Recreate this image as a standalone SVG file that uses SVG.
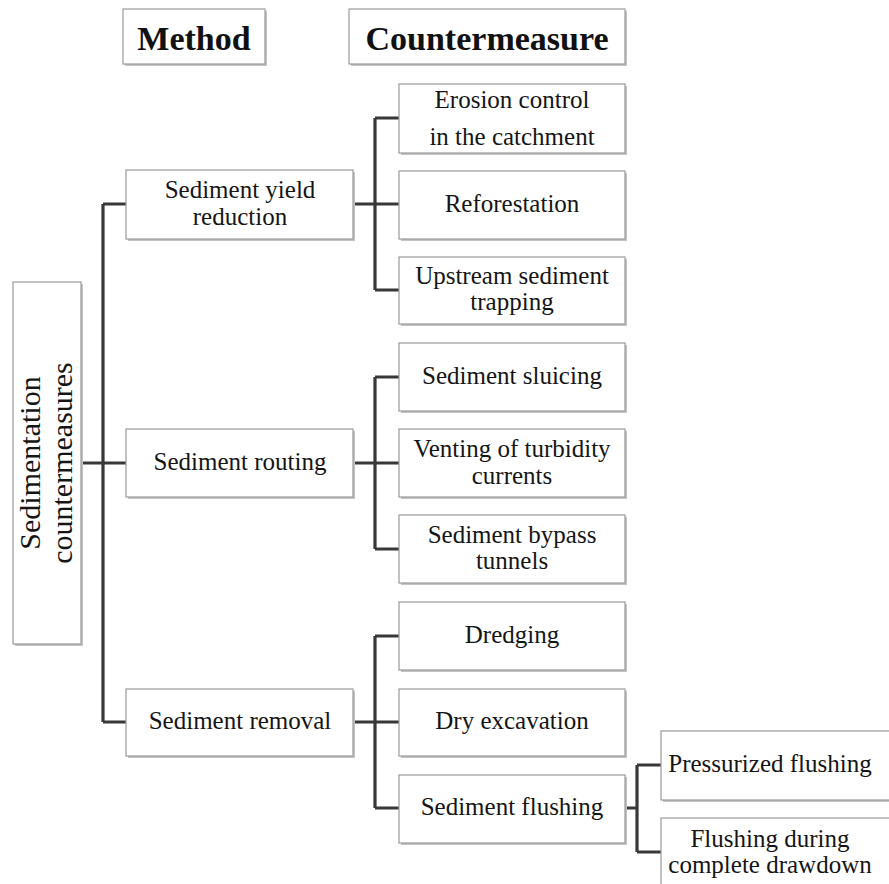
<svg xmlns="http://www.w3.org/2000/svg" width="889" height="884" viewBox="0 0 889 884">
<defs>
<style>
.bx{fill:#fff;stroke:#9a9a9a;stroke-width:1.2}
.sh{fill:#c4c4c4}
.t{font-family:"Liberation Serif","Times New Roman",serif;font-size:25px;fill:#151515;text-anchor:middle}
.h{font-family:"Liberation Serif","Times New Roman",serif;font-size:34px;font-weight:bold;fill:#111;text-anchor:middle}
.r{font-family:"Liberation Serif","Times New Roman",serif;font-size:30px;fill:#151515;text-anchor:middle}
.c{fill:none;stroke:#383838;stroke-width:3.2}
</style>
</defs>
<rect width="889" height="884" fill="#fff"/>
<g id="connectors">
<path class="c" d="M81 463H103M103 204V722M103 204H126M103 463H126M103 722H126"/>
<path class="c" d="M353 204H375M375 118V290M375 118H399M375 204H399M375 290H399"/>
<path class="c" d="M353 463H375M375 377V549M375 377H399M375 463H399M375 549H399"/>
<path class="c" d="M353 722H375M375 636V808M375 636H399M375 722H399M375 808H399"/>
<path class="c" d="M617 808H637M637 765V852M637 765H661M637 852H661"/>
</g>
<g id="hdr-method"><rect class="sh" x="125" y="11" width="142" height="55"/><rect class="bx" x="123" y="9" width="142" height="55"/><text class="h" x="194" y="50">Method</text></g>
<g id="hdr-counter"><rect class="sh" x="351" y="11" width="276" height="55"/><rect class="bx" x="349" y="9" width="276" height="55"/><text class="h" x="487" y="50">Countermeasure</text></g>
<g id="root"><rect class="sh" x="15" y="284" width="68" height="362"/><rect class="bx" x="13" y="282" width="68" height="362"/>
<text class="r" transform="translate(40,463) rotate(-90)">Sedimentation</text>
<text class="r" transform="translate(72,463) rotate(-90)">countermeasures</text></g>
<g id="m1"><rect class="sh" x="128" y="172" width="227" height="69"/><rect class="bx" x="126" y="170" width="227" height="69"/><text class="t" x="240" y="198">Sediment yield</text><text class="t" x="240" y="225">reduction</text></g>
<g id="m2"><rect class="sh" x="128" y="431" width="227" height="68"/><rect class="bx" x="126" y="429" width="227" height="68"/><text class="t" x="240" y="470">Sediment routing</text></g>
<g id="m3"><rect class="sh" x="128" y="691" width="227" height="67"/><rect class="bx" x="126" y="689" width="227" height="67"/><text class="t" x="240" y="729">Sediment removal</text></g>
<g id="c1"><rect class="sh" x="401" y="86" width="226" height="69"/><rect class="bx" x="399" y="84" width="226" height="69"/><text class="t" x="512" y="108">Erosion control</text><text class="t" x="512" y="145">in the catchment</text></g>
<g id="c2"><rect class="sh" x="401" y="173" width="226" height="68"/><rect class="bx" x="399" y="171" width="226" height="68"/><text class="t" x="512" y="212">Reforestation</text></g>
<g id="c3"><rect class="sh" x="401" y="259" width="226" height="67"/><rect class="bx" x="399" y="257" width="226" height="67"/><text class="t" x="512" y="284">Upstream sediment</text><text class="t" x="512" y="310">trapping</text></g>
<g id="c4"><rect class="sh" x="401" y="345" width="226" height="68"/><rect class="bx" x="399" y="343" width="226" height="68"/><text class="t" x="512" y="384">Sediment sluicing</text></g>
<g id="c5"><rect class="sh" x="401" y="431" width="226" height="68"/><rect class="bx" x="399" y="429" width="226" height="68"/><text class="t" x="512" y="457">Venting of turbidity</text><text class="t" x="512" y="484">currents</text></g>
<g id="c6"><rect class="sh" x="401" y="517" width="226" height="68"/><rect class="bx" x="399" y="515" width="226" height="68"/><text class="t" x="512" y="543">Sediment bypass</text><text class="t" x="512" y="569">tunnels</text></g>
<g id="c7"><rect class="sh" x="401" y="604" width="226" height="68"/><rect class="bx" x="399" y="602" width="226" height="68"/><text class="t" x="512" y="643">Dredging</text></g>
<g id="c8"><rect class="sh" x="401" y="691" width="226" height="67"/><rect class="bx" x="399" y="689" width="226" height="67"/><text class="t" x="512" y="729">Dry excavation</text></g>
<g id="c9"><rect class="sh" x="401" y="777" width="226" height="68"/><rect class="bx" x="399" y="775" width="226" height="68"/><text class="t" x="512" y="815">Sediment flushing</text></g>
<g id="f1"><rect class="sh" x="663" y="733" width="240" height="69"/><rect class="bx" x="661" y="731" width="240" height="69"/><text class="t" x="770" y="772">Pressurized flushing</text></g>
<g id="f2"><rect class="sh" x="663" y="820" width="240" height="80"/><rect class="bx" x="661" y="818" width="240" height="80"/><text class="t" x="770" y="847">Flushing during</text><text class="t" x="770" y="873">complete drawdown</text></g>
</svg>
